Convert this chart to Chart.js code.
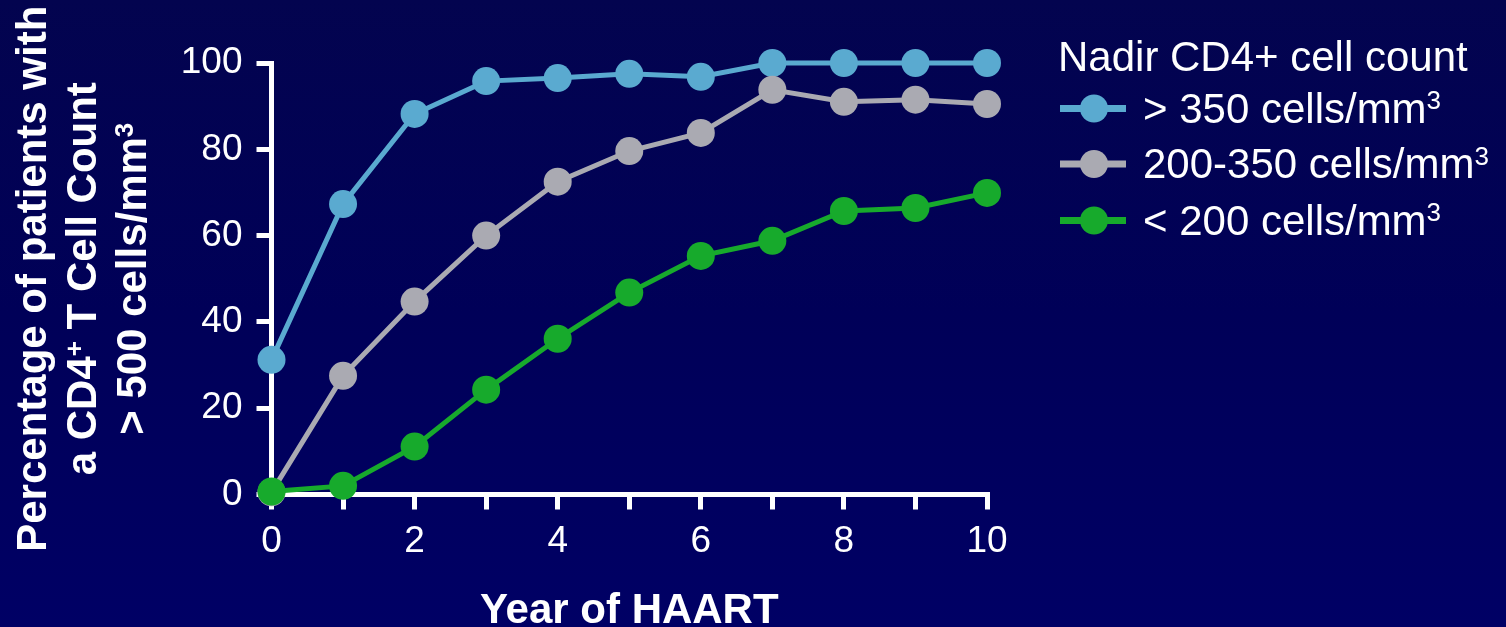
<!DOCTYPE html>
<html>
<head>
<meta charset="utf-8">
<script src="https://cdn.jsdelivr.net/npm/chart.js@4"></script>
<style>
  html, body { margin: 0; padding: 0; }
  body {
    width: 1506px; height: 627px; overflow: hidden;
    background: linear-gradient(to bottom, #03044f 0%, #000058 50%, #000065 100%);
  }
  canvas { display: block; }
</style>
</head>
<body>
<canvas id="chart" width="1506" height="627"></canvas>
<script>
// Years of HAART and percentage of patients reaching > 500 CD4+ cells/mm3
const years = [0, 1, 2, 3, 4, 5, 6, 7, 8, 9, 10];
const nadirAbove350 = [31.2, 67.3, 88.2, 95.8, 96.5, 97.5, 96.8, 100, 100, 100, 100];
const nadir200to350 = [0.5, 27.5, 44.7, 60.0, 72.5, 79.6, 83.8, 93.8, 91.0, 91.5, 90.5];
const nadirBelow200 = [0.7, 2.0, 11.1, 24.3, 36.1, 46.8, 55.3, 58.8, 65.7, 66.4, 69.9];

const yTicks = [0, 20, 40, 60, 80, 100];
const xTickLabels = [0, 2, 4, 6, 8, 10];

// label text; entries with sup:true are drawn as superscripts
const seriesLabels = [
  [{ t: '> 350 cells/mm' }, { t: '3', sup: true }],
  [{ t: '200-350 cells/mm' }, { t: '3', sup: true }],
  [{ t: '< 200 cells/mm' }, { t: '3', sup: true }]
];
const legendTitle = 'Nadir CD4+ cell count';
const xTitle = 'Year of HAART';
const yTitleLines = [
  [{ t: 'Percentage of patients with' }],
  [{ t: 'a CD4' }, { t: '+', sup: true }, { t: ' T Cell Count' }],
  [{ t: '> 500 cells/mm' }, { t: '3', sup: true }]
];

const seriesColors = ['#5aaad0', '#aaaab2', '#17aa2c'];
const FAMILY = '"Liberation Sans", Arial, Helvetica, sans-serif';

function points(values) {
  return years.map((x, i) => ({ x: x, y: values[i] }));
}

// draws a run of text pieces, some of them raised as superscripts
function drawRich(ctx, runs, x, y, size, weight, align) {
  const supSize = size * 0.62;
  const rise = size * 0.32;
  const widths = runs.map(r => {
    ctx.font = `${weight} ${r.sup ? supSize : size}px ${FAMILY}`;
    return ctx.measureText(r.t).width;
  });
  const total = widths.reduce((a, b) => a + b, 0);
  let cx = align === 'center' ? x - total / 2 : x;
  ctx.textAlign = 'left';
  ctx.textBaseline = 'alphabetic';
  runs.forEach((r, i) => {
    ctx.font = `${weight} ${r.sup ? supSize : size}px ${FAMILY}`;
    ctx.fillText(r.t, cx, r.sup ? y - rise : y);
    cx += widths[i];
  });
}

const annotations = {
  id: 'annotations',
  afterDraw(chart) {
    const ctx = chart.ctx;
    const area = chart.chartArea;
    ctx.save();
    ctx.fillStyle = '#ffffff';

    // y axis title, rotated, three lines
    const midY = (area.top + area.bottom) / 2;
    ctx.save();
    ctx.translate(0, midY);
    ctx.rotate(-Math.PI / 2);
    const baselines = [46, 96, 146];
    yTitleLines.forEach((line, i) => drawRich(ctx, line, 0, baselines[i], 42, 'bold', 'center'));
    ctx.restore();

    // x axis title
    drawRich(ctx, [{ t: xTitle }], (area.left + area.right) / 2, 623, 42, 'bold', 'center');

    // legend
    ctx.fillStyle = '#ffffff';
    drawRich(ctx, [{ t: legendTitle }], 1058, 71, 42, 'normal', 'left');
    const rowY = [108.5, 164, 220.5];
    chart.data.datasets.forEach((ds, i) => {
      const y = rowY[i];
      ctx.strokeStyle = ds.borderColor;
      ctx.lineWidth = 7;
      ctx.beginPath();
      ctx.moveTo(1060, y);
      ctx.lineTo(1126, y);
      ctx.stroke();
      ctx.fillStyle = ds.pointBackgroundColor;
      ctx.beginPath();
      ctx.arc(1094, y, 14, 0, Math.PI * 2);
      ctx.fill();
      ctx.fillStyle = '#ffffff';
      drawRich(ctx, seriesLabels[i], 1143, y + 14, 42, 'normal', 'left');
    });
    ctx.restore();
  }
};

function series(values, color, order) {
  return {
    data: points(values),
    borderColor: color,
    backgroundColor: color,
    pointBackgroundColor: color,
    pointBorderWidth: 0,
    pointRadius: 14,
    borderWidth: 5,
    clip: false,
    order: order
  };
}

new Chart(document.getElementById('chart'), {
  type: 'line',
  data: {
    datasets: [
      series(nadirAbove350, seriesColors[0], 2),
      series(nadir200to350, seriesColors[1], 1),
      series(nadirBelow200, seriesColors[2], 0)
    ]
  },
  options: {
    responsive: false,
    animation: false,
    events: [],
    layout: { padding: { left: 0, top: 63, right: 519, bottom: 0 } },
    plugins: { legend: { display: false }, tooltip: { enabled: false } },
    scales: {
      x: {
        type: 'linear',
        min: 0,
        max: 10,
        afterFit(scale) { scale.height = 132.5; },
        ticks: {
          stepSize: 1,
          autoSkip: false,
          maxRotation: 0,
          padding: 10,
          color: '#ffffff',
          font: { family: FAMILY, size: 37 },
          callback: v => (xTickLabels.includes(v) ? String(v) : '')
        },
        grid: { drawOnChartArea: false, color: '#ffffff', lineWidth: 5, tickLength: 15 },
        border: { color: '#ffffff', width: 5 }
      },
      y: {
        min: 0,
        max: 100,
        afterFit(scale) { scale.width = 271.5; },
        afterBuildTicks(scale) { scale.ticks = yTicks.map(v => ({ value: v })); },
        ticks: {
          padding: 14,
          color: '#ffffff',
          font: { family: FAMILY, size: 37 }
        },
        grid: { drawOnChartArea: false, color: '#ffffff', lineWidth: 5, tickLength: 15 },
        border: { color: '#ffffff', width: 5 }
      }
    }
  },
  plugins: [annotations]
});
</script>
</body>
</html>
